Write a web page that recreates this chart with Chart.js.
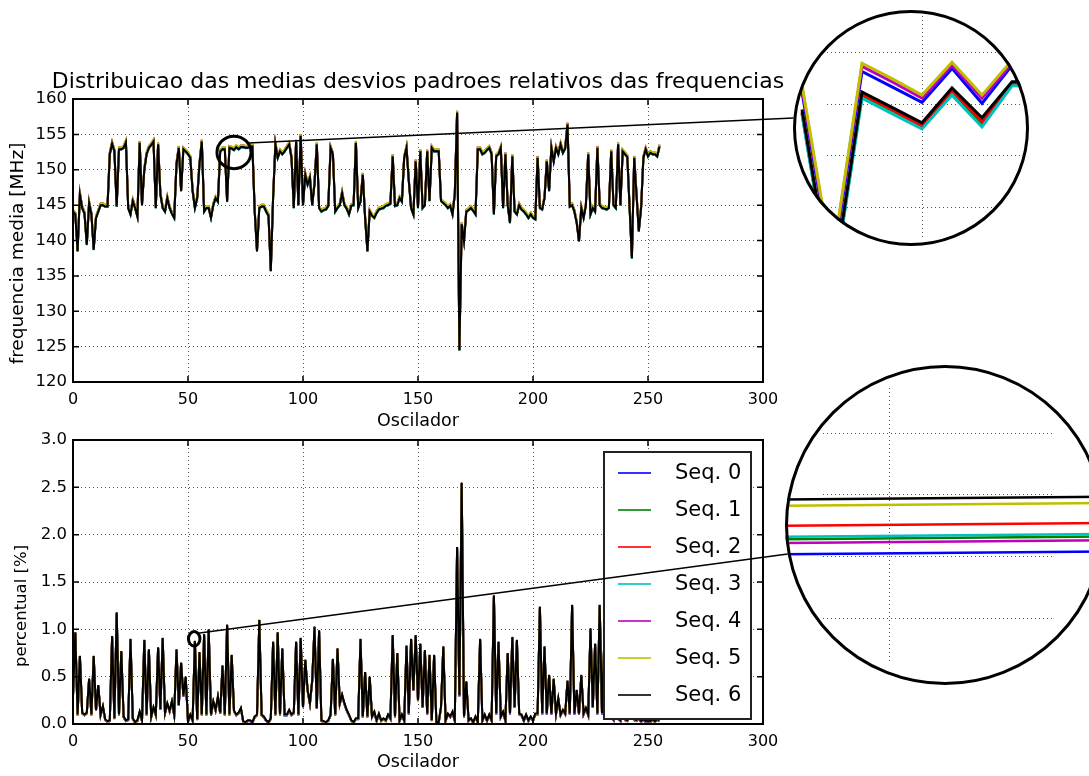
<!DOCTYPE html>
<html>
<head>
<meta charset="utf-8">
<script src="https://cdn.jsdelivr.net/npm/chart.js@4.4.0/dist/chart.umd.min.js"></script>
<style>
  html, body { margin: 0; padding: 0; background: #fff; width: 1089px; height: 776px; overflow: hidden; }
  canvas { position: absolute; }
  .lens { position: absolute; border-radius: 50%; overflow: hidden; background: #fff; }
  .lensRim { position: absolute; border-radius: 50%; border: 3px solid #000; box-sizing: border-box; }
</style>
</head>
<body>
<canvas id="topChart" width="840" height="440" style="left:0;top:0"></canvas>
<canvas id="lowChart" width="800" height="356" style="left:0;top:420px"></canvas>
<div class="lens" id="lensTopBox"><canvas id="lensTop"></canvas></div>
<div class="lensRim" id="lensTopRim"></div>
<div class="lens" id="lensLowBox"><canvas id="lensLow"></canvas></div>
<div class="lensRim" id="lensLowRim"></div>
<script>
// series names / colours (matplotlib classic cycle)
const seqNames = ['Seq. 0', 'Seq. 1', 'Seq. 2', 'Seq. 3', 'Seq. 4', 'Seq. 5', 'Seq. 6'];
const seqColors = ['#0000ff', '#008000', '#ff0000', '#00bfbf', '#bf00bf', '#bfbf00', '#000000'];

const oscillators = Array.from({length: 256}, (_, i) => i);

// mean frequency of Seq. 6 (MHz)
const freqSeq6 = [
  144.1, 143.7, 138.5, 146.5, 144.6, 143.8, 139.4, 145.3, 143.7, 138.7,
  143.2, 144.1, 145.0, 145.0, 144.8, 144.8, 152.2, 153.7, 152.6, 144.8,
  152.9, 152.9, 153.1, 153.9, 144.6, 143.7, 145.6, 144.6, 143.4, 153.8,
  145.0, 150.0, 152.2, 153.1, 153.5, 154.0, 144.6, 153.6, 146.5, 144.6,
  144.1, 146.0, 144.6, 143.8, 143.2, 150.8, 153.1, 147.0, 152.9, 152.6,
  152.2, 151.7, 147.0, 144.6, 146.0, 150.8, 154.0, 144.1, 144.6, 144.6,
  143.2, 145.0, 146.0, 145.5, 152.6, 152.9, 152.9, 145.5, 153.1, 153.0,
  152.8, 153.2, 152.9, 153.2, 153.2, 153.1, 153.1, 153.3, 153.3, 144.1,
  138.5, 144.6, 144.8, 144.8, 144.1, 143.5, 135.7, 146.0, 153.6, 151.7,
  152.6, 152.2, 152.6, 153.1, 153.6, 151.7, 144.6, 154.0, 145.0, 154.8,
  145.0, 149.3, 147.9, 148.9, 145.0, 148.0, 153.6, 144.6, 144.1, 144.3,
  144.4, 144.9, 153.1, 152.2, 144.1, 144.6, 145.0, 146.7, 145.0, 144.5,
  143.7, 144.9, 145.0, 153.8, 144.6, 145.5, 149.3, 143.2, 138.5, 144.1,
  143.5, 143.2, 143.9, 144.4, 144.5, 144.6, 144.9, 145.0, 145.2, 151.9,
  144.9, 145.0, 146.0, 145.5, 151.7, 153.1, 148.4, 144.6, 143.7, 151.2,
  144.6, 152.6, 144.6, 145.0, 152.6, 145.6, 153.1, 152.6, 152.6, 152.6,
  145.6, 145.3, 145.0, 144.6, 144.9, 143.7, 146.5, 158.1, 124.5, 142.3,
  139.9, 144.1, 144.3, 144.6, 144.2, 143.7, 152.9, 152.9, 152.2, 152.4,
  152.8, 153.1, 152.2, 143.7, 151.9, 152.2, 153.1, 144.6, 152.2, 145.0,
  142.5, 151.9, 144.1, 143.7, 145.0, 144.4, 144.1, 143.7, 143.2, 143.7,
  143.2, 143.0, 151.7, 144.6, 144.4, 146.0, 151.2, 147.0, 153.1, 151.2,
  153.1, 152.2, 153.6, 152.4, 153.0, 156.4, 144.8, 145.0, 144.1, 142.5,
  139.9, 144.6, 143.2, 145.0, 152.2, 143.7, 144.6, 144.1, 153.1, 145.0,
  144.6, 144.5, 144.4, 144.6, 152.6, 145.0, 144.6, 153.6, 145.0, 152.6,
  152.2, 151.8, 144.6, 137.5, 151.7, 146.5, 141.3, 144.6, 151.7, 152.9,
  151.9, 152.4, 152.2, 152.2, 151.9, 153.3
];
// level of each sequence relative to Seq. 6 (MHz), from the zoomed lens
const freqShift = [0.20, -0.04, -0.03, -0.07, 0.25, 0.28, 0];

// relative deviation of Seq. 6 (%)
const pctSeq6 = [
  0.30, 0.97, 0.10, 0.72, 0.12, 0.10, 0.12, 0.48, 0.10, 0.72,
  0.15, 0.41, 0.10, 0.19, 0.05, 0.03, 0.04, 0.93, 0.06, 1.18,
  0.10, 0.77, 0.08, 0.04, 0.05, 0.90, 0.06, 0.02, 0.04, 0.13,
  0.04, 0.89, 0.10, 0.79, 0.08, 0.18, 0.10, 0.81, 0.16, 0.91,
  0.12, 0.22, 0.14, 0.24, 0.10, 0.79, 0.20, 0.65, 0.30, 0.50,
  0.03, 0.10, 0.04, 0.88, 0.05, 0.76, 0.10, 0.95, 0.10, 1.00,
  0.10, 0.24, 0.15, 0.29, 0.12, 0.62, 0.10, 1.05, 0.10, 0.73,
  0.14, 0.10, 0.12, 0.17, 0.03, 0.02, 0.04, 0.04, 0.02, 0.08,
  0.10, 1.10, 0.10, 0.08, 0.04, 0.02, 0.06, 0.87, 0.10, 0.97,
  0.10, 0.80, 0.10, 0.10, 0.15, 0.10, 0.12, 0.87, 0.10, 0.91,
  0.18, 0.68, 0.36, 0.22, 0.46, 1.03, 0.17, 0.99, 0.04, 0.03,
  0.02, 0.04, 0.10, 0.69, 0.10, 0.80, 0.22, 0.31, 0.22, 0.15,
  0.10, 0.04, 0.02, 0.06, 0.06, 0.90, 0.08, 0.55, 0.08, 0.50,
  0.08, 0.13, 0.04, 0.11, 0.04, 0.06, 0.04, 0.10, 0.06, 0.94,
  0.08, 0.75, 0.04, 0.10, 0.04, 0.83, 0.11, 0.90, 0.36, 0.94,
  0.25, 0.85, 0.18, 0.78, 0.11, 0.73, 0.04, 0.73, 0.02, 0.02,
  0.18, 0.82, 0.04, 0.11, 0.08, 0.13, 0.04, 1.87, 0.30, 2.55,
  0.08, 0.45, 0.04, 0.06, 0.02, 0.08, 0.02, 0.90, 0.04, 0.10,
  0.04, 0.10, 0.04, 1.36, 0.11, 0.87, 0.08, 0.13, 0.04, 0.75,
  0.11, 0.92, 0.18, 0.89, 0.11, 0.10, 0.04, 0.10, 0.04, 0.08,
  0.04, 0.11, 0.11, 1.24, 0.11, 0.82, 0.11, 0.52, 0.11, 0.48,
  0.11, 0.27, 0.10, 0.15, 0.11, 0.46, 0.11, 1.26, 0.11, 0.36,
  0.11, 0.52, 0.11, 0.17, 0.10, 1.01, 0.18, 0.85, 0.11, 1.26,
  0.11, 0.89, 0.10, 0.72, 0.08, 0.05, 0.60, 0.06, 0.04, 0.35,
  0.05, 0.04, 0.08, 0.55, 0.05, 0.04, 0.06, 0.03, 0.05, 0.03,
  0.05, 0.03, 0.05, 0.03, 0.05, 0.04
];
const pctShift = [-0.010, -0.0075, -0.005, -0.007, -0.008, -0.004, 0];

// zoomed lens, top panel (oscillators 65..74)
const zoomTopX = [65, 66, 67, 68, 69, 70, 71, 72, 73, 74];
const zoomTopSeq = [
  [153.12, 153.12, 151.39, 153.32, 153.17, 153.02, 153.35, 153.01, 153.38, 153.40],
  [152.92, 152.92, 151.16, 153.09, 152.94, 152.79, 153.13, 152.81, 153.19, 153.19],
  [152.92, 152.92, 151.16, 153.10, 152.95, 152.79, 153.14, 152.83, 153.20, 153.20],
  [152.90, 152.90, 151.14, 153.06, 152.91, 152.76, 153.09, 152.78, 153.18, 153.18],
  [153.16, 153.16, 151.44, 153.37, 153.22, 153.06, 153.38, 153.06, 153.40, 153.42],
  [153.19, 153.19, 151.47, 153.40, 153.25, 153.09, 153.41, 153.09, 153.43, 153.45],
  [152.95, 152.95, 151.19, 153.12, 152.97, 152.82, 153.16, 152.87, 153.22, 153.22]
];
const zoomTopGridX = [70];
const zoomTopGridY = [152, 152.5, 153, 153.5];

// zoomed lens, bottom panel (around oscillator 53)
const zoomLowX = [52.5, 53.5];
const zoomLowSeq = [
  [0.9101, 0.9105], [0.9113, 0.9117], [0.9124, 0.9128], [0.9115, 0.9119],
  [0.9110, 0.9114], [0.9140, 0.9144], [0.9145, 0.9149]
];
const zoomLowGridX = [53];
const zoomLowGridY = [0.905, 0.910, 0.915, 0.920];

// where the lenses sit on the page and which spot they magnify
const lensTopGeo = {cx: 911, cy: 128, r: 118, dy: -10};
const lensLowGeo = {cx: 945, cy: 525, r: 160, dy: 29};
const focusTop = {osc: 70, value: 152.45, dOsc: 7.4, dValue: 2.3, angle: 35};
const focusLow = {osc: 52.7, value: 0.90, dOsc: 2.5, dValue: 0.076, angle: 50};

Chart.defaults.font.family = '"DejaVu Sans", sans-serif';
Chart.defaults.color = '#000';

const gridColor = '#555';

function frameAndTicks(chart) {
  const {ctx, chartArea: a, scales: {x, y}} = chart;
  ctx.save();
  ctx.strokeStyle = '#000';
  ctx.lineWidth = 1.5;
  ctx.beginPath();
  x.ticks.forEach(t => {
    const px = x.getPixelForValue(t.value);
    ctx.moveTo(px, a.bottom); ctx.lineTo(px, a.bottom - 6);
    ctx.moveTo(px, a.top); ctx.lineTo(px, a.top + 6);
  });
  y.ticks.forEach(t => {
    const py = y.getPixelForValue(t.value);
    ctx.moveTo(a.left, py); ctx.lineTo(a.left + 6, py);
    ctx.moveTo(a.right, py); ctx.lineTo(a.right - 6, py);
  });
  ctx.stroke();
  ctx.lineWidth = 2;
  ctx.strokeRect(a.left, a.top, a.right - a.left, a.bottom - a.top);
  ctx.restore();
}

// vertical axis label; matplotlib placed it a bit below the axis middle
function yLabel(chart, text, size, x, shift) {
  const {ctx, chartArea: a} = chart;
  ctx.save();
  ctx.translate(x, (a.top + a.bottom) / 2 + shift);
  ctx.rotate(-Math.PI / 2);
  ctx.font = size + 'px "DejaVu Sans"';
  ctx.fillStyle = '#000';
  ctx.textAlign = 'center';
  ctx.textBaseline = 'middle';
  ctx.fillText(text, 0, 0);
  ctx.restore();
}

function drawFocus(chart, focus, lens, canvasTop) {
  const {ctx, scales: {x, y}} = chart;
  const cx = x.getPixelForValue(focus.osc), cy = y.getPixelForValue(focus.value);
  const rx = Math.abs(x.getPixelForValue(focus.osc + focus.dOsc) - cx);
  const ry = Math.abs(y.getPixelForValue(focus.value + focus.dValue) - cy);
  ctx.save();
  ctx.strokeStyle = '#000';
  ctx.lineWidth = 3;
  ctx.beginPath();
  ctx.ellipse(cx, cy, rx, ry, 0, 0, 2 * Math.PI);
  ctx.stroke();
  const a = focus.angle * Math.PI / 180;
  const sx = cx + rx * Math.cos(a), sy = cy - ry * Math.sin(a);
  const ex = lens.cx - Math.sqrt(lens.r * lens.r - lens.dy * lens.dy);
  const ey = lens.cy + lens.dy - canvasTop;
  ctx.lineWidth = 1.5;
  ctx.beginPath();
  ctx.moveTo(sx, sy);
  ctx.lineTo(ex, ey);
  ctx.stroke();
  ctx.restore();
}

function drawLegend(chart) {
  const {ctx, chartArea: a} = chart;
  const w = 147, h = 267;
  const x0 = a.right - 12 - w, y0 = a.bottom - 5 - h;
  ctx.save();
  ctx.fillStyle = '#fff';
  ctx.fillRect(x0, y0, w, h);
  ctx.strokeStyle = '#222';
  ctx.lineWidth = 2;
  ctx.strokeRect(x0, y0, w, h);
  ctx.font = '21px "DejaVu Sans"';
  ctx.textBaseline = 'middle';
  chart.data.datasets.forEach((ds, i) => {
    const yy = y0 + 21 + i * 37;
    ctx.globalAlpha = 0.8;
    ctx.strokeStyle = ds.borderColor;
    ctx.lineWidth = 2;
    ctx.beginPath();
    ctx.moveTo(x0 + 14, yy);
    ctx.lineTo(x0 + 47, yy);
    ctx.stroke();
    ctx.globalAlpha = 1;
    ctx.fillStyle = '#000';
    ctx.fillText(ds.label, x0 + 71, yy + 1);
  });
  ctx.restore();
}

function seqDatasets(base, shift, width) {
  return seqNames.map((name, k) => ({
    label: name,
    data: base.map(v => +(v + shift[k]).toFixed(4)),
    borderColor: seqColors[k],
    borderWidth: width,
    pointRadius: 0,
    tension: 0,
    fill: false,
    order: seqNames.length - 1 - k
  }));
}

function mainOptions(o) {
  return {
    responsive: false,
    animation: false,
    events: [],
    layout: {padding: o.padding},
    plugins: {legend: {display: false}, tooltip: {enabled: false}, title: o.title || {display: false}},
    scales: Object.assign({
      x: {
        type: 'linear', min: 0, max: 300,
        ticks: {stepSize: 50, padding: 8, maxRotation: 0, font: {size: 16}},
        grid: {color: gridColor, lineWidth: 1, drawTicks: false},
        border: {display: false, dash: [1, 3]},
        title: {display: true, text: 'Oscilador', font: {size: 17.5}, padding: {top: 0, bottom: o.xTitlePad}},
        afterFit: s => { s.height = o.xHeight; }
      },
      y: {
        min: o.yMin, max: o.yMax,
        ticks: {stepSize: o.yStep, padding: 6, font: {size: 16.5}, callback: o.yFmt},
        grid: {color: gridColor, lineWidth: 1, drawTicks: false},
        border: {display: false, dash: [1, 3]},
        afterFit: s => { s.width = 73; }
      }
    }, o.extraScales || {})
  };
}

// top panel: mean frequency
new Chart(document.getElementById('topChart'), {
  type: 'line',
  data: {labels: oscillators, datasets: seqDatasets(freqSeq6, freqShift, 2)},
  options: mainOptions({
    padding: {left: 0, right: 4, top: 0, bottom: 0},
    xHeight: 58, xTitlePad: 8,
    yMin: 120, yMax: 160, yStep: 5, yFmt: v => v.toFixed(0),
    title: {
      display: true, position: 'top', align: 'center',
      text: 'Distribuicao das medias desvios padroes relativos das frequencias',
      font: {size: 22, weight: 'normal'}, color: '#000',
      padding: {top: 68.8, bottom: 3.8}
    },
    extraScales: {
      // empty right-hand box so the title centres over the plot area
      yRight: {
        type: 'linear', position: 'right', min: 0, max: 1,
        ticks: {display: false}, grid: {display: false}, border: {display: false},
        afterFit: s => { s.width = 73; }
      }
    }
  }),
  plugins: [{
    id: 'deco',
    afterDatasetsDraw(chart) {
      frameAndTicks(chart);
      yLabel(chart, 'frequencia media [MHz]', 18.5, 18, 13);
      drawFocus(chart, focusTop, lensTopGeo, 0);
    }
  }]
});

// bottom panel: relative deviation
new Chart(document.getElementById('lowChart'), {
  type: 'line',
  data: {labels: oscillators, datasets: seqDatasets(pctSeq6, pctShift, 2)},
  options: mainOptions({
    padding: {left: 0, right: 37, top: 20, bottom: 0},
    xHeight: 52, xTitlePad: 3,
    yMin: 0, yMax: 3, yStep: 0.5, yFmt: v => v.toFixed(1)
  }),
  plugins: [{
    id: 'deco',
    afterDatasetsDraw(chart) {
      frameAndTicks(chart);
      yLabel(chart, 'percentual [%]', 16.5, 22, 24);
      drawLegend(chart);
      drawFocus(chart, focusLow, lensLowGeo, 420);
    }
  }]
});

// magnifying lenses
function makeLens(id, geo, o) {
  const size = geo.r * 2;
  [id + 'Box', id + 'Rim'].forEach(n => {
    const el = document.getElementById(n);
    el.style.left = (geo.cx - geo.r) + 'px';
    el.style.top = (geo.cy - geo.r) + 'px';
    el.style.width = size + 'px';
    el.style.height = size + 'px';
  });
  const cv = document.getElementById(id);
  cv.width = size; cv.height = size;
  cv.style.left = '0px'; cv.style.top = '0px';
  new Chart(cv, {
    type: 'line',
    data: {
      datasets: o.seq.map((vals, k) => ({
        label: seqNames[k],
        data: o.xs.map((xv, i) => ({x: xv, y: vals[i]})),
        borderColor: seqColors[k],
        borderWidth: o.width,
        pointRadius: 0,
        clip: false,
        order: seqNames.length - 1 - k
      }))
    },
    options: {
      responsive: false,
      animation: false,
      events: [],
      layout: {padding: o.padding},
      plugins: {legend: {display: false}, tooltip: {enabled: false}},
      scales: {
        x: {
          type: 'linear', min: o.xMin, max: o.xMax,
          ticks: {display: false}, grid: {color: gridColor, drawTicks: false},
          border: {display: false, dash: [1, 3]},
          afterBuildTicks: s => { s.ticks = o.gridX.map(v => ({value: v})); },
          afterFit: s => { s.height = 0; }
        },
        y: {
          type: 'linear', min: o.yMin, max: o.yMax,
          ticks: {display: false}, grid: {color: gridColor, drawTicks: false},
          border: {display: false, dash: [1, 3]},
          afterBuildTicks: s => { s.ticks = o.gridY.map(v => ({value: v})); },
          afterFit: s => { s.width = 0; }
        }
      }
    }
  });
}

makeLens('lensTop', lensTopGeo, {
  xs: zoomTopX, seq: zoomTopSeq, width: 3,
  padding: {left: 34, right: 9, top: 2, bottom: 8},
  xMin: 66.833, xMax: 73.267, yMin: 151.699, yMax: 153.899,
  gridX: zoomTopGridX, gridY: zoomTopGridY
});

makeLens('lensLow', lensLowGeo, {
  xs: zoomLowX, seq: zoomLowSeq, width: 2.5,
  padding: {left: 38, right: 50, top: 23, bottom: 23},
  xMin: 52.886, xMax: 53.286, yMin: 0.90153, yMax: 0.92363,
  gridX: zoomLowGridX, gridY: zoomLowGridY
});
</script>
</body>
</html>
